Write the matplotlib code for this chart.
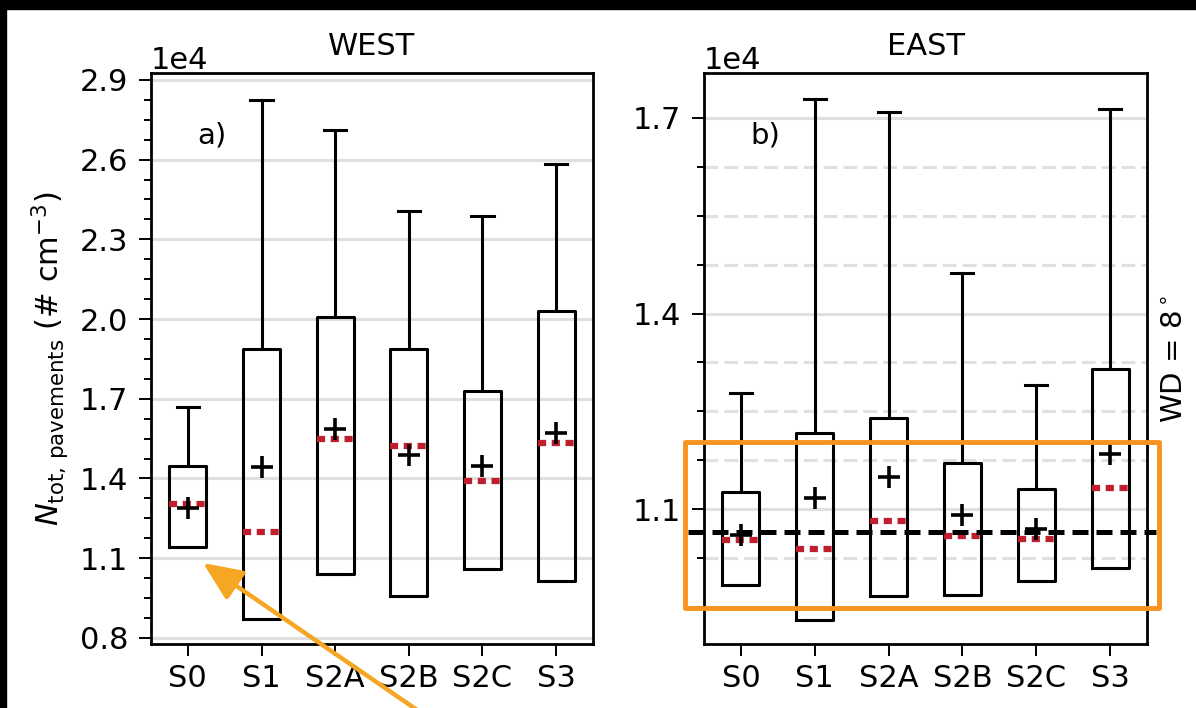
import matplotlib
matplotlib.use("Agg")
import matplotlib.pyplot as plt
from matplotlib.patches import Rectangle
from matplotlib.ticker import MultipleLocator, AutoMinorLocator

plt.rcParams['font.family'] = ['DejaVu Sans']

scenarios = ["S0", "S1", "S2A", "S2B", "S2C", "S3"]

# WEST, values in # cm-3
west_q1 = [11430, 8720, 10410, 9580, 10600, 10150]
west_q3 = [14470, 18880, 20080, 18880, 17300, 20310]
west_med = [13040, 11990, 15490, 15230, 13910, 15340]
west_mean = [12890, 14440, 15870, 14890, 14470, 15720]
west_whishi = [16700, 28250, 27120, 24070, 23880, 25840]

# EAST
east_q1 = [9830, 9300, 9670, 9680, 9900, 10090]
east_q3 = [11260, 12170, 12400, 11710, 11310, 13150]
east_med = [10520, 10390, 10820, 10590, 10540, 11320]
east_mean = [10600, 11170, 11490, 10910, 10690, 11850]
east_whishi = [12780, 17290, 17090, 14620, 12900, 17140]

ref_level = 10650          # dashed reference line, EAST
wd_label = r"WD = 8$^\circ$"

# highlight box on EAST panel (data coords) and arrow target on WEST panel
hl_x = (0.243, 6.665)
hl_y = (9480, 12030)
arrow_tip = (1.206, 10820)


def make_stats(q1, q3, med, mean, whishi):
    out = []
    for i in range(len(q1)):
        out.append(dict(q1=q1[i], q3=q3[i], med=med[i], mean=mean[i],
                        whislo=q1[i], whishi=whishi[i], fliers=[]))
    return out


fig = plt.figure(figsize=(11.96, 7.08), dpi=100)
fig.patch.set_facecolor('white')
# black screen border (top and left)
fig.patches.append(Rectangle((0, 1 - 9 / 708), 1, 9 / 708, transform=fig.transFigure,
                             color='black', zorder=0))
fig.patches.append(Rectangle((0, 0), 6 / 1196, 1, transform=fig.transFigure,
                             color='black', zorder=0))

ax1 = fig.add_axes([151 / 1196, 64 / 708, 442 / 1196, 571 / 708])
ax2 = fig.add_axes([704 / 1196, 64 / 708, 443 / 1196, 571 / 708])

lw_box = 2.2
boxprops = dict(color='black', linewidth=lw_box)
whiskerprops = dict(color='black', linewidth=lw_box)
capprops = dict(color='black', linewidth=lw_box)
medianprops = dict(color='#be1e2d', linewidth=4.5, linestyle=(0, (1.3, 0.9)))
meanprops = dict(marker='+', markeredgecolor='black', markersize=16, markeredgewidth=2.6)

panels = [
    (ax1, make_stats(west_q1, west_q3, west_med, west_mean, west_whishi),
     "WEST", (7770, 29260), 8000, "a)"),
    (ax2, make_stats(east_q1, east_q3, east_med, east_mean, east_whishi),
     "EAST", (8930, 17690), 11000, "b)"),
]

for ax, st, title, ylim, tick0, letter in panels:
    ax.bxp(st, showmeans=True, showfliers=False, widths=0.5, capwidths=0.3,
           boxprops=boxprops, whiskerprops=whiskerprops, capprops=capprops,
           medianprops=medianprops, meanprops=meanprops)
    ax.set_xticks(range(1, len(scenarios) + 1))
    ax.set_xticklabels(scenarios)
    ax.set_xlim(0.5, 6.5)
    ax.set_ylim(*ylim)
    ax.yaxis.set_major_locator(MultipleLocator(3000, offset=tick0))
    ax.yaxis.set_minor_locator(AutoMinorLocator(4))
    ax.ticklabel_format(axis='y', style='sci', scilimits=(0, 0))
    ax.yaxis.get_offset_text().set_fontsize(22)
    ax.tick_params(axis='both', which='major', labelsize=22, length=8.5, width=1.4)
    ax.tick_params(axis='y', which='major', pad=8)
    ax.tick_params(axis='x', which='major', pad=6)
    ax.tick_params(axis='y', which='minor', length=5, width=1.4)
    ax.grid(axis='y', which='major', color='#e0e0e0', linewidth=2.2, linestyle='-')
    ax.set_axisbelow(True)
    for s in ax.spines.values():
        s.set_linewidth(2.0)
    ax.set_title(title, fontsize=22, pad=13)
    ax.text(0.104, 0.877, letter, transform=ax.transAxes, fontsize=21,
            ha='left', va='baseline')

ax2.grid(axis='y', which='minor', color='#e0e0e0', linewidth=2.2, linestyle=(0, (4.5, 2)))

ax1.set_ylabel(r"$N_{\mathrm{tot,\,pavements}}$ (# cm$^{-3}$)", fontsize=22, labelpad=6)

ax2.axhline(ref_level, xmin=-0.036, xmax=1.02, color='black', linestyle=(0, (3.2, 1.6)),
            linewidth=3.6, clip_on=False, zorder=5)
ax2.text(1.06, 0.5, wd_label, transform=ax2.transAxes, rotation=90,
         fontsize=21, ha='center', va='center')

hl = Rectangle((hl_x[0], hl_y[0]), hl_x[1] - hl_x[0], hl_y[1] - hl_y[0],
               fill=False, edgecolor='#f7931e', linewidth=3.5, clip_on=False,
               zorder=6, joinstyle='round')
ax2.add_patch(hl)

ax1.annotate("", xy=arrow_tip, xycoords='data',
             xytext=(0.361, -0.017), textcoords='figure fraction',
             arrowprops=dict(arrowstyle='-|>,head_length=0.8,head_width=0.35',
                             color='#f5a623', lw=3.2, mutation_scale=30,
                             shrinkA=0, shrinkB=0),
             annotation_clip=False, zorder=7)

fig.savefig("out.png", dpi=100)
